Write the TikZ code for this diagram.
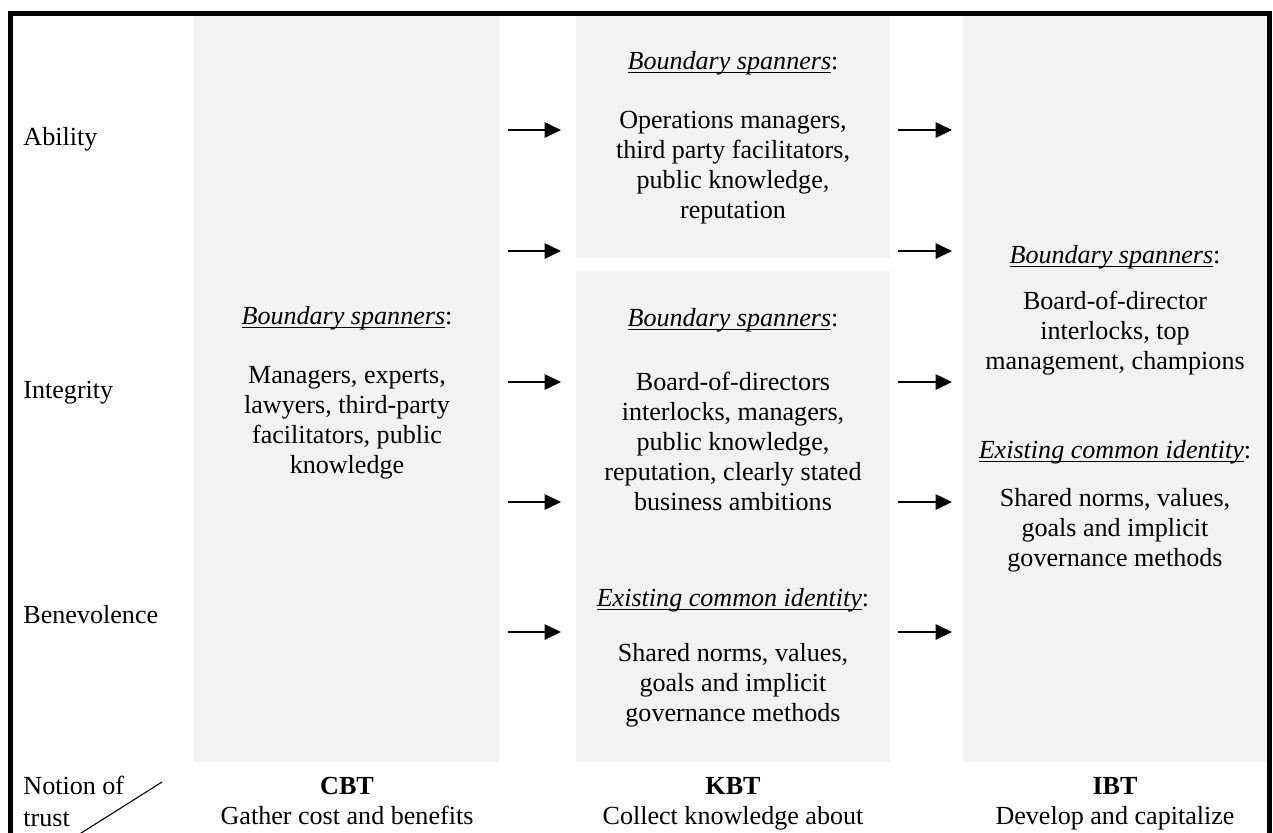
\documentclass[tikz,border=0pt]{standalone}
\usepackage{fontspec}
\setmainfont{Liberation Serif}
\usepackage{tikz}
\usetikzlibrary{arrows.meta}
\definecolor{cellgray}{RGB}{242,242,242}
\tikzset{>=latex}
\tikzstyle{lbl} = [draw=none, inner sep=0, text height=8.3pt, text depth=2.6pt]
\tikzstyle{blk} = [draw=none, inner sep=0, align=center]
\tikzstyle{flow} = [-{Triangle[length=7.5pt, width=7pt]}, line width=0.9pt]
\newcommand{\undertext}[1]{\setbox0\hbox{#1}\rlap{\rule[-1.8pt]{\wd0}{0.55pt}}\box0}
\newcommand{\hdr}[1]{\undertext{\textit{#1}}:}

\begin{document}
\begin{tikzpicture}[x=0.46pt, y=-0.46pt, font=\fontsize{12}{13.8}\selectfont]
\useasboundingbox (0,0) rectangle (1273,832);
% shaded cells
\fill [cellgray] (194,15) rectangle (499,762);
\fill [cellgray] (576,15) rectangle (890,258);
\fill [cellgray] (576,271) rectangle (890,762);
\fill [cellgray] (963,15) rectangle (1268,762);
\draw [line width=2.3pt] (10,840) -- (10,13) -- (1269,13) -- (1269,840);
\draw [line width=0.5pt] (162,782) -- (78,835);

\node [lbl, anchor=west] (ability) at (23, 139) {Ability};
\node [lbl, anchor=west] (integrity) at (23, 392) {Integrity};
\node [lbl, anchor=west] (benevolence) at (23, 617) {Benevolence};

\node [lbl] (cbtHead) at (347, 318) {\hdr{Boundary spanners}};
\node [blk] (cbtBody) at (347, 423) {Managers, experts,\\ lawyers, third-party\\ facilitators, public\\ knowledge};

\node [lbl] (kbtHeadA) at (733, 63) {\hdr{Boundary spanners}};
\node [blk] (kbtBodyA) at (733, 168) {Operations managers,\\ third party facilitators,\\ public knowledge,\\ reputation};
\node [lbl] (kbtHeadB) at (733, 320) {\hdr{Boundary spanners}};
\node [blk] (kbtBodyB) at (733, 441) {Board-of-directors\\ interlocks, managers,\\ public knowledge,\\ reputation, clearly stated\\ business ambitions};
\node [lbl] (kbtHeadC) at (733, 600) {\hdr{Existing common identity}};
\node [blk] (kbtBodyC) at (733, 685) {Shared norms, values,\\ goals and implicit\\ governance methods};

\node [lbl] (ibtHeadA) at (1115, 257) {\hdr{Boundary spanners}};
\node [blk] (ibtBodyA) at (1115, 333) {Board-of-director\\ interlocks, top\\ management, champions};
\node [lbl] (ibtHeadB) at (1115, 452) {\hdr{Existing common identity}};
\node [blk] (ibtBodyB) at (1115, 530) {Shared norms, values,\\ goals and implicit\\ governance methods};

\node [lbl, anchor=west] (notion) at (23, 788) {Notion of};
\node [lbl, anchor=west] (trust) at (23, 820) {trust};
\node [lbl] (cbt) at (347, 788) {\textbf{CBT}};
\node [lbl] (cbtSub) at (347, 818) {Gather cost and benefits};
\node [lbl] (kbt) at (733, 788) {\textbf{KBT}};
\node [lbl] (kbtSub) at (733, 818) {Collect knowledge about};
\node [lbl] (ibt) at (1115, 788) {\textbf{IBT}};
\node [lbl] (ibtSub) at (1115, 818) {Develop and capitalize};

\foreach \y [count=\i] in {130, 251, 382, 502, 632} {
  \coordinate (inA\i) at (508, \y);
  \coordinate (outA\i) at (561, \y);
  \coordinate (inB\i) at (898, \y);
  \coordinate (outB\i) at (952, \y);
  \draw [flow] (inA\i) -- (outA\i);
  \draw [flow] (inB\i) -- (outB\i);
}
\end{tikzpicture}
\end{document}
